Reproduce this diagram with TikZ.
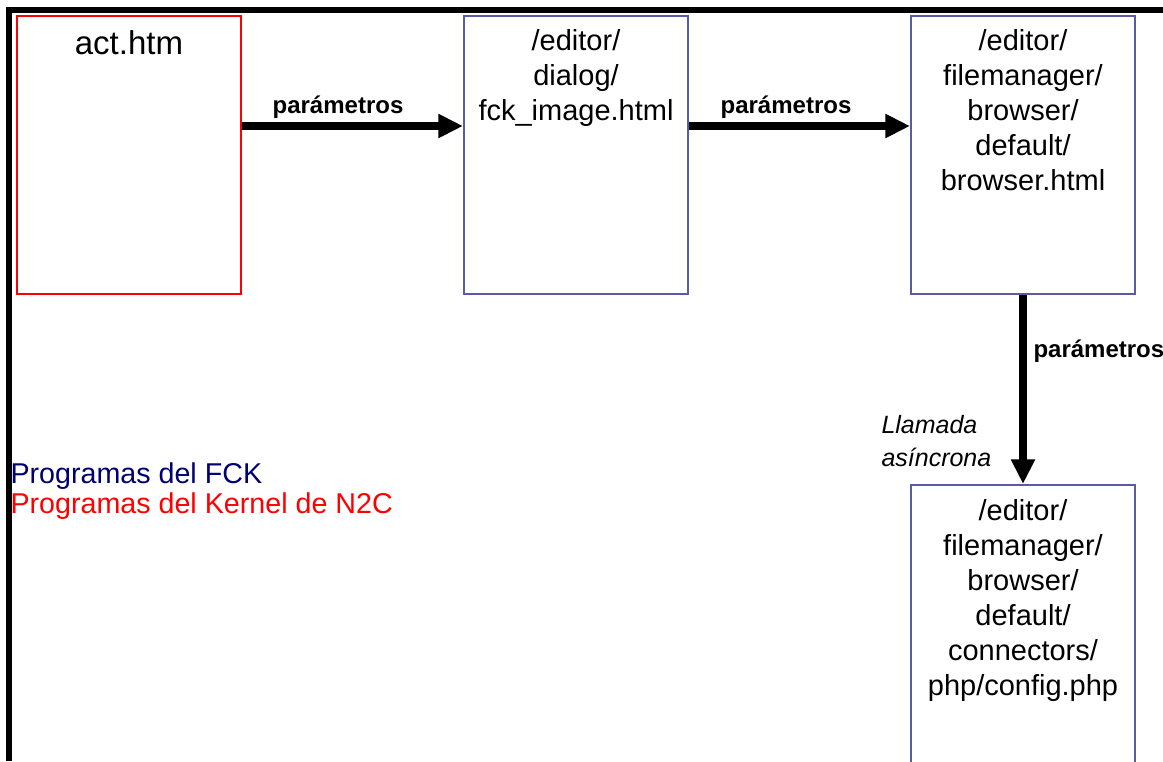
\documentclass[tikz,border=0pt]{standalone}
\usepackage{fontspec}
\setmainfont{Liberation Sans}
\usetikzlibrary{arrows.meta,positioning}

\definecolor{fckborde}{RGB}{90,90,168}
\definecolor{fcknavy}{RGB}{0,0,112}

\tikzset{every picture/.style={line width=0.75pt}}
\tikzset{
  fckbox/.style={draw=fckborde, line width=1.5pt, anchor=north west, inner sep=0pt,
    minimum width=168pt, minimum height=208.5pt},
  kernelbox/.style={fckbox, draw=red},
  boxtext/.style={font=\fontsize{21.75}{26.25}\selectfont, align=center, inner sep=0pt},
  flecha/.style={line width=6pt, -{Triangle[length=18.5pt,width=17pt]}},
  etiqueta/.style={font=\bfseries\fontsize{18}{21}\selectfont, inner sep=0pt, anchor=base},
  leyenda/.style={font=\fontsize{21.5}{22.5}\selectfont, inner sep=0pt, anchor=base west}
}

\begin{document}
\begin{tikzpicture}[x=0.75pt,y=0.75pt,yscale=-1,xscale=1]
    \clip (0,0) rectangle (1163,761);
    \fill[white] (0,0) rectangle (1163,761);
    %Shape: frame
    \draw [line width=4.5pt] (9,761) -- (9,10) -- (1163,10) ;
    %Shape: Rectangle [act]
    \node [kernelbox] (act) at (16,15) {};
    \node [boxtext, font=\fontsize{24.75}{29}\selectfont, below=29.25pt of act.north, anchor=base] (acttxt) {act.htm};
    %Shape: Rectangle [dialog]
    \node [fckbox] (dialog) at (463,15) {};
    \node [boxtext, below=10.5pt of dialog.north] (dialogtxt) {/editor/\\dialog/\\fck\_image.html};
    %Shape: Rectangle [browser]
    \node [fckbox] (browser) at (910,15) {};
    \node [boxtext, below=10.5pt of browser.north] (browsertxt) {/editor/\\filemanager/\\browser/\\default/\\browser.html};
    %Shape: Rectangle [config]
    \node [fckbox, minimum height=230pt] (config) at (910,484) {};
    \node [boxtext, below=11pt of config.north] (configtxt) {/editor/\\filemanager/\\browser/\\default/\\connectors/\\php/config.php};
    % Arrows
    \coordinate (fila) at (0,126);
    \draw [flecha] (act.east |- fila) -- (dialog.west |- fila) ;
    \draw [flecha] (dialog.east |- fila) -- (browser.west |- fila) ;
    \draw [flecha] (browser.south) -- (config.north) ;
    % Text Node
    \node [etiqueta] (param1) at (338,113) {parámetros};
    % Text Node
    \node [etiqueta] (param2) at (786,113) {parámetros};
    % Text Node
    \node [etiqueta, anchor=base west] (param3) at (1033,357) {parámetros};
    % Text Node
    \node [font=\itshape\fontsize{18.75}{24.75}\selectfont, inner sep=0pt, anchor=north west, align=left] (llamada) at (881,415) {Llamada\\asíncrona};
    % Text Node
    \node [leyenda, text=fcknavy] (leyfck) at (10,483) {Programas del FCK};
    % Text Node
    \node [leyenda, text=red] (leykernel) at (10,513) {Programas del Kernel de N2C};
\end{tikzpicture}
\end{document}
